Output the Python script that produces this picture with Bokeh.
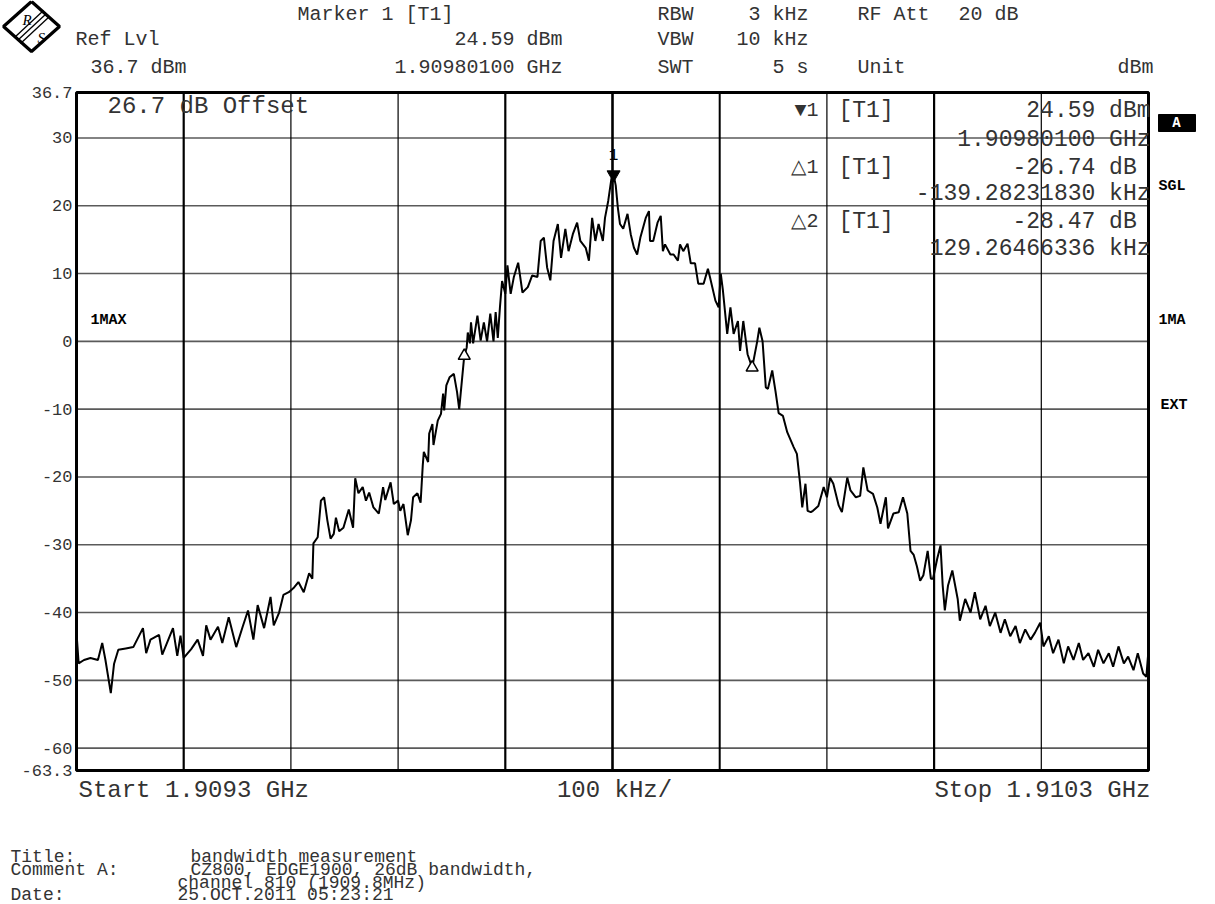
from bokeh.plotting import figure
from bokeh.models import Range1d
from bokeh.core.properties import value
from bokeh.embed import file_html
from bokeh.resources import INLINE

# ---------------- data ----------------
CENTER_GHZ = 1.9098
X_MIN, X_MAX = -500.0, 500.0          # kHz offset from centre (100 kHz/div)
Y_MIN, Y_MAX = -63.3, 36.7            # dBm

freq_khz = [
    -500, -498, -493, -487, -480, -476, -473, -468, -465, -461, -454, -447, -438, -435, -431,
    -423, -420, -410, -406, -403, -400, -393, -387, -382, -379, -375, -368, -364, -358, -351,
    -345, -340, -335, -331, -325, -319, -316, -311, -307, -302, -297, -293, -288, -283, -280,
    -279, -275, -272, -269, -266, -263, -260, -258, -255, -251, -246, -242, -240, -237, -233,
    -230, -227, -223, -218, -214, -212, -207, -204, -200, -198, -195, -191, -188, -186, -182,
    -179, -177, -176, -172, -171, -168, -167, -163, -160, -158, -157, -155, -152, -148, -145,
    -143, -138.3, -136, -135, -133, -132, -130, -126, -123, -120, -117, -114, -111, -109, -107,
    -105, -103, -100, -98, -95, -92, -88, -84, -79, -75, -70, -67, -64, -61, -58,
    -55, -51, -48, -44, -41, -37, -33, -30, -25, -22, -19, -16, -13, -9, -7,
    -4, -1, 1, 3, 5, 7, 10, 14, 17, 20, 23, 26, 31, 34, 35,
    38, 42, 45, 47, 49, 54, 57, 61, 63, 66, 70, 73, 77, 80, 85,
    89, 91, 96, 99, 101, 103, 107, 110, 113, 117, 119, 122, 126, 130.3, 135,
    137, 140, 143, 145, 149, 152, 155, 159, 163, 169, 172, 175, 177, 180, 182,
    185, 187, 192, 197, 200, 203, 206, 211, 214, 219, 222, 227, 231, 234, 238,
    243, 247, 250, 255, 257, 262, 267, 271, 275, 278, 281, 284, 287, 290, 294,
    297, 299, 303, 306, 308, 310, 313, 317, 322, 324, 329, 334, 338, 343, 348,
    352, 357, 362, 366, 371, 376, 380, 385, 390, 394, 399, 402, 407, 411, 416,
    421, 425, 430, 435, 439, 444, 449, 453, 458, 463, 467, 472, 477, 481, 486,
    490, 495, 498, 500,
]
level_dbm = [
    -43, -47.5, -47, -46.7, -47, -44.5, -47, -51.9, -47.6, -45.5, -45.3, -45.1, -42.3, -46, -44,
    -43.3, -46.2, -42.3, -46.4, -43.4, -46.7, -45.4, -44, -46.4, -41.9, -44, -42.1, -44.5, -40.7, -45.1,
    -42.1, -39.7, -44, -38.9, -42.3, -37.7, -41.9, -40, -37.4, -37.0, -36.3, -35.5, -37, -34.2, -35,
    -29.8, -28.9, -23.5, -23, -26.4, -29.1, -28.4, -26, -28, -27.5, -24.8, -27.5, -20.2, -22.4, -21.5,
    -23.5, -22.3, -24.5, -25.4, -21.5, -23.4, -20.8, -24, -23.5, -25, -24, -28.6, -26.4, -23, -22.4,
    -23.8, -18.3, -16.3, -17.8, -13.6, -12.2, -15.3, -11.7, -10.7, -7.7, -10.2, -6.5, -5.3, -4.8, -7.5,
    -10.0, -2.15, -0.9, 1.3, -0.3, 2.8, -0.3, 3.8, 0.1, 2.8, 0.0, 4.1, 0.0, 4.3, 0.5,
    5.0, 8.9, 7.0, 11.2, 7.0, 9.5, 11.6, 7.2, 8.0, 9.7, 9.5, 14.8, 15.3, 10.9, 9.0,
    14.8, 17.3, 12.3, 16.6, 13.3, 15.8, 17.5, 14.8, 13.8, 11.9, 18.2, 14.8, 17.3, 14.8, 18.2,
    20.7, 24.0, 24.59, 23.0, 19.7, 17.3, 16.6, 18.8, 15.8, 13.8, 12.8, 15.3, 18.2, 19.2, 14.8,
    14.8, 17.5, 18.5, 13.3, 14.3, 12.8, 12.8, 11.9, 14.3, 13.3, 14.4, 11.5, 11.5, 8.5, 8.5,
    10.7, 9.4, 6.0, 5.0, 10.0, 7.5, 1.1, 5.0, 1.1, 3.0, -1.4, 3.0, -1.9, -3.88, 0.0,
    2.0, 0.0, -6.8, -7.0, -4.3, -7.3, -10.6, -11.0, -13.4, -15.6, -16.6, -21.0, -24.5, -21.0, -25.0,
    -25.2, -25.0, -24.3, -21.5, -23.0, -20.1, -21.0, -24.2, -25.2, -20.1, -22.0, -23.0, -22.8, -18.6, -22.0,
    -22.5, -24.5, -26.9, -23.0, -27.6, -25.4, -25.2, -23.0, -25.4, -30.9, -31.5, -33.2, -35.3, -34.5, -30.9,
    -35.0, -35.0, -32.0, -30.1, -36.0, -39.7, -36.0, -33.8, -38.0, -41.2, -38, -40, -37, -41, -39,
    -42, -40, -43, -41, -43.5, -42, -44.5, -42.5, -44, -43, -41.5, -45, -43.5, -46, -44,
    -47.5, -45, -47, -44.5, -47, -46, -48, -45.5, -47.5, -46, -48, -45, -47.5, -46.5, -48.5,
    -46, -49, -49.5, -45.5,
]

marker1_freq_khz = 1.0          # 1.90980100 GHz
marker1_level_dbm = 24.59
delta_labels = ["1", "2"]
delta_freq_khz = [-139.28231830, 129.26466336]
delta_level_db = [-26.74, -28.47]

y_ticks = [36.7, 30, 20, 10, 0, -10, -20, -30, -40, -50, -60, -63.3]
y_tick_labels = ["36.7", "30", "20", "10", "0", "-10", "-20", "-30", "-40", "-50", "-60", "-63.3"]
x_grid_khz = [-400, -300, -200, -100, 0, 100, 200, 300, 400]
x_grid_width = [2.2, 1.2, 1.2, 2.2, 2.6, 2.0, 1.2, 2.2, 1.2]
y_grid_dbm = [30, 20, 10, 0, -10, -20, -30, -40, -50, -60]

# ---------------- layout (page pixels) ----------------
W, H = 1215, 904
PLOT_L, PLOT_R, PLOT_T, PLOT_B = 76, 1148, 92, 770
KHZ_PER_PX = (X_MAX - X_MIN) / (PLOT_R - PLOT_L)
DB_PER_PX = (Y_MAX - Y_MIN) / (PLOT_B - PLOT_T)
MONO = "Liberation Mono"
TXT = "#333333"

# page canvas: default ranges are page pixels (y downward);
# the spectrum uses its own kHz / dBm scales mapped onto the screen area
p = figure(width=W, height=H, x_range=Range1d(0, W), y_range=Range1d(H, 0),
           x_axis_type=None, y_axis_type=None, min_border=0,
           output_backend="svg", toolbar_location=None, tools="")
p.extra_x_ranges = {"khz": Range1d(X_MIN - PLOT_L * KHZ_PER_PX, X_MAX + (W - PLOT_R) * KHZ_PER_PX)}
p.extra_y_ranges = {"dbm": Range1d(Y_MIN - (H - PLOT_B) * DB_PER_PX, Y_MAX + PLOT_T * DB_PER_PX)}
p.outline_line_color = None
p.background_fill_color = "white"
p.border_fill_color = "white"

S = dict(x_range_name="khz", y_range_name="dbm")

# grid
p.segment(x0=[X_MIN] * len(y_grid_dbm), x1=[X_MAX] * len(y_grid_dbm), y0=y_grid_dbm, y1=y_grid_dbm,
          line_color="#5a5a5a", line_width=1.6, **S)
p.segment(x0=x_grid_khz, x1=x_grid_khz, y0=[Y_MIN] * len(x_grid_khz), y1=[Y_MAX] * len(x_grid_khz),
          line_color="black", line_width=x_grid_width, **S)
# screen frame
p.quad(left=[X_MIN], right=[X_MAX], bottom=[Y_MIN], top=[Y_MAX], fill_color=None,
       line_color="black", line_width=3, **S)

# y tick labels
p.text(x=[X_MIN] * len(y_ticks), y=y_ticks, text=y_tick_labels, x_offset=-4,
       text_align="right", text_baseline="middle", text_font=value(MONO),
       text_font_size="17px", text_color=TXT, **S)

# trace
p.line(freq_khz, level_dbm, line_color="black", line_width=2, **S)

# markers
p.scatter([marker1_freq_khz], [marker1_level_dbm], marker="inverted_triangle",
          size=13, fill_color="black", line_color="black", **S)
dx = [marker1_freq_khz + d for d in delta_freq_khz]
dy = [marker1_level_dbm + d for d in delta_level_db]
p.scatter(dx, dy, marker="triangle", size=12, fill_color="white", line_color="black",
          line_width=1.5, **S)
p.text(x=[marker1_freq_khz], y=[marker1_level_dbm], text=["1"], y_offset=-20,
       text_align="center", text_baseline="middle", text_font=value(MONO),
       text_font_size="16px", text_color="black", **S)


def txt(s, x, y, align="left", size=23, bold=False, color=TXT, font=MONO, italic=False):
    style = "bold" if bold else ("italic" if italic else "normal")
    p.text(x=[x], y=[y], text=[s], text_align=align, text_baseline="middle",
           text_font=value(font), text_font_size=f"{size}px",
           text_font_style=style, text_color=color)


# header
HS = 20
txt("Marker 1 [T1]", 297, 14, size=HS)
txt("Ref Lvl", 75, 39, size=HS)
txt("36.7 dBm", 90, 67, size=HS)
txt(f"{marker1_level_dbm:.2f} dBm", 562, 39, align="right", size=HS)
txt(f"{CENTER_GHZ + marker1_freq_khz * 1e-6:.8f} GHz", 562, 67, align="right", size=HS)
txt("RBW", 657, 14, size=HS)
txt("3 kHz", 808, 14, align="right", size=HS)
txt("RF Att", 857, 14, size=HS)
txt("20 dB", 1018, 14, align="right", size=HS)
txt("VBW", 657, 39, size=HS)
txt("10 kHz", 808, 39, align="right", size=HS)
txt("SWT", 657, 67, size=HS)
txt("5 s", 808, 67, align="right", size=HS)
txt("Unit", 857, 67, size=HS)
txt("dBm", 1153, 67, align="right", size=HS)

# inside the screen
txt("26.7 dB Offset", 107, 106, size=24)
txt("\u25BC1", 818, 110, align="right", size=20)
txt("[T1]", 838, 110)
txt(f"{marker1_level_dbm:.2f} dBm", 1150, 110, align="right")
txt(f"{CENTER_GHZ + marker1_freq_khz * 1e-6:.8f} GHz", 1150, 139, align="right")
rows_y = [(167, 193), (221, 248)]
for lab, f, d, (ya, yb) in zip(delta_labels, delta_freq_khz, delta_level_db, rows_y):
    txt("\u25B3" + lab, 818, ya, align="right", size=20)
    txt("[T1]", 838, ya)
    txt(f"{d:.2f} dB ", 1150, ya, align="right")
    txt(f"{f:.8f} kHz", 1150, yb, align="right")

txt("1MAX", 90, 320, size=15, bold=True, color="black")
# right-hand side annotations
p.quad(left=[1158], right=[1195], top=[114], bottom=[131], fill_color="black", line_color="black")
txt("A", 1176, 122.5, align="center", size=14, bold=True, color="white")
txt("SGL", 1158, 186, size=15, bold=True, color="black")
txt("1MA", 1158, 320, size=15, bold=True, color="black")
txt("EXT", 1160, 405, size=15, bold=True, color="black")

# bottom
txt("Start 1.9093 GHz", 78, 790, size=24)
txt("100 kHz/", 614, 790, align="center", size=24)
txt("Stop 1.9103 GHz", 1150, 790, align="right", size=24)
NS = 18
txt("Title:", 10, 856, size=NS)
txt("bandwidth measurement", 190, 856, size=NS)
txt("Comment A:", 10, 869, size=NS)
txt("CZ800, EDGE1900, 26dB bandwidth,", 190, 869, size=NS)
txt("channel 810 (1909.8MHz)", 177, 882, size=NS)
txt("Date:", 10, 894, size=NS)
txt("25.OCT.2011  05:23:21", 177, 894, size=NS)

# R&S logo
p.line([31, 59, 31, 3, 31], [1, 26, 51, 26, 1], line_color="black", line_width=3.2)
p.multi_line([[14, 43], [17, 46], [20, 49]], [[37, 10], [40, 13], [43, 16]],
             line_color="black", line_width=1.3)
txt("R", 22, 19, size=15, font="Liberation Serif", color="black", italic=True)
txt("S", 37, 37, size=15, font="Liberation Serif", color="black", italic=True)

open("out.html", "w").write(file_html(p, INLINE))
